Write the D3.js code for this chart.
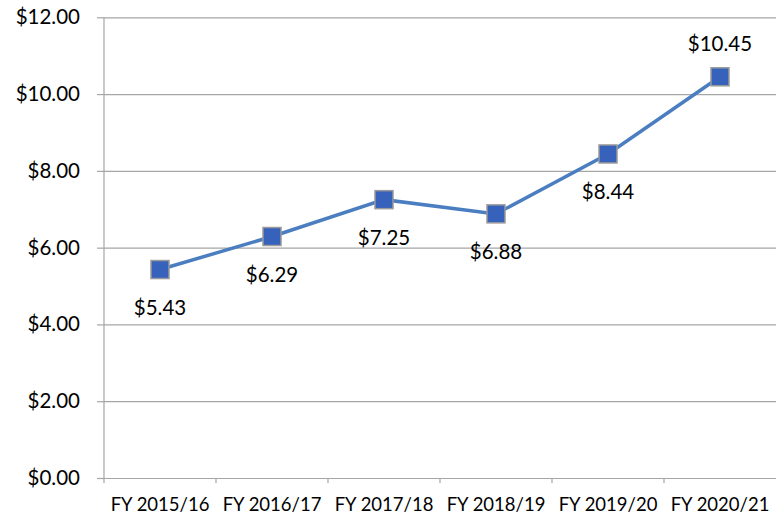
<!DOCTYPE html>
<html>
<head>
<meta charset="utf-8">
<script src="https://cdn.jsdelivr.net/npm/d3@7"></script>
<style>
  body { margin: 0; background: #fff; }
  svg { display: block; font-family: Lato, "Open Sans", sans-serif; }
</style>
</head>
<body>
<div id="chart"></div>
<script>
const years = ["FY 2015/16", "FY 2016/17", "FY 2017/18", "FY 2018/19", "FY 2019/20", "FY 2020/21"]
const values = [5.43, 6.29, 7.25, 6.88, 8.44, 10.45]
const yTicks = [0, 2, 4, 6, 8, 10, 12]
const labelAbove = [false, false, false, false, false, true]

const LINE_COLOR = "#4a7ec0"
const MARKER_COLOR = "#3762bb"
const GRID_COLOR = "#a6a6a6"

let width = 776, height = 518
let margin = {top: 17.3, right: 0, bottom: 40, left: 104}

let svg = d3.select("#chart").append("svg").attr("width", width).attr("height", height)

let x = d3.scaleBand().domain(years).range([margin.left, width - margin.right])
let y = d3.scaleLinear().domain([0, 12]).range([478, margin.top])

// gridlines + y labels
let yAxis = svg.append("g").attr("transform", `translate(${margin.left},0)`)
    .call(d3.axisLeft(y).tickValues(yTicks).tickSize(7).tickFormat(d => "$" + d3.format(".2f")(d)))
yAxis.select(".domain").remove()
yAxis.selectAll(".tick line").clone()
    .attr("x1", 0).attr("x2", width - margin.left)
yAxis.selectAll(".tick line").attr("stroke", GRID_COLOR).attr("stroke-width", 1.2)
yAxis.selectAll(".tick text").attr("x", -24).attr("font-size", "20.5px").attr("fill", "#000")
    .attr("font-family", "Lato, sans-serif")

// left axis line
svg.append("line")
    .attr("x1", margin.left).attr("x2", margin.left)
    .attr("y1", y(12)).attr("y2", y(0) + 5)
    .attr("stroke", GRID_COLOR).attr("stroke-width", 1.2)

// x axis
let xAxis = svg.append("g").attr("transform", `translate(0,${y(0)})`)
    .call(d3.axisBottom(x).tickSize(0).tickPadding(20))
xAxis.select(".domain").remove()
xAxis.selectAll(".tick text").attr("font-size", "18.5px").attr("fill", "#000")
    .attr("font-family", "Lato, sans-serif").attr("dy", "0.72em")
// category boundary ticks
svg.append("g").selectAll("line").data(years.slice(1)).join("line")
    .attr("x1", d => x(d)).attr("x2", d => x(d))
    .attr("y1", y(0)).attr("y2", y(0) + 5)
    .attr("stroke", GRID_COLOR).attr("stroke-width", 1.2)

let cx = d => x(d) + x.bandwidth() / 2
let data = years.map((d, i) => ({year: d, v: values[i], above: labelAbove[i]}))

let line = d3.line().x(d => cx(d.year)).y(d => y(d.v))
svg.append("path").datum(data)
    .attr("d", line).attr("fill", "none")
    .attr("stroke", LINE_COLOR).attr("stroke-width", 3.5)

let ms = 18
svg.append("g").selectAll("rect").data(data).join("rect")
    .attr("x", d => cx(d.year) - ms / 2).attr("y", d => y(d.v) - ms / 2)
    .attr("width", ms).attr("height", ms)
    .attr("fill", MARKER_COLOR).attr("stroke", "#9a9a9a").attr("stroke-width", 1.5)

svg.append("g").selectAll("text").data(data).join("text")
    .text(d => "$" + d3.format(".2f")(d.v))
    .attr("x", d => cx(d.year))
    .attr("y", d => y(d.v) + (d.above ? -34 : 37))
    .attr("dominant-baseline", "central")
    .attr("text-anchor", "middle")
    .attr("font-size", "20.5px")
    .attr("fill", "#000")
</script>
</body>
</html>
